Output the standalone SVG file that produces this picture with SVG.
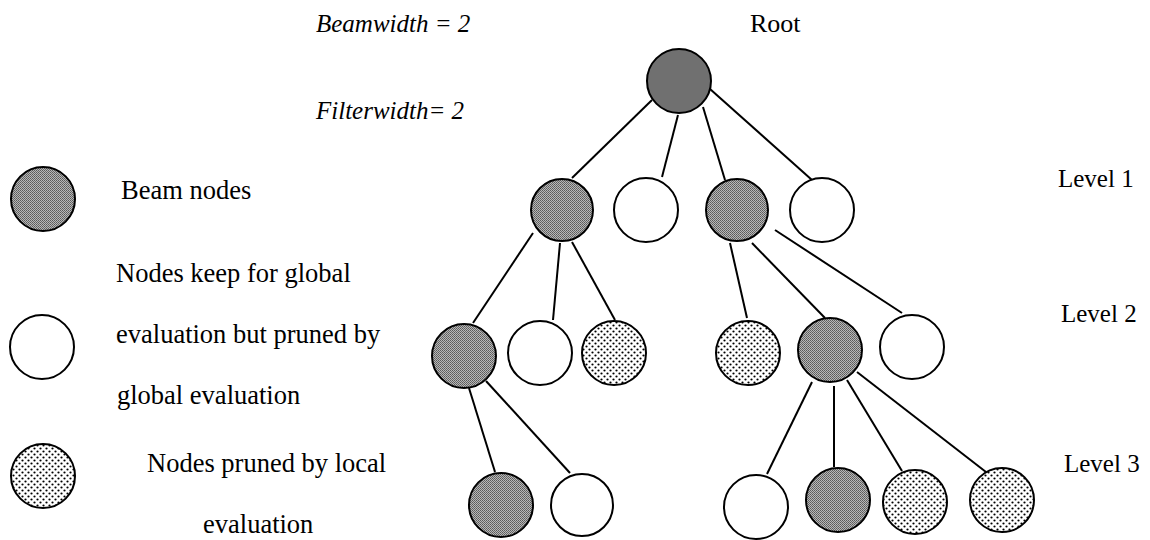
<svg xmlns="http://www.w3.org/2000/svg" width="1150" height="540" viewBox="0 0 1150 540">
<defs>
<pattern id="dots" width="6" height="6" patternUnits="userSpaceOnUse">
<rect width="6" height="6" fill="#fff"/>
<circle cx="1.5" cy="1.5" r="1.1" fill="#000"/>
<circle cx="4.5" cy="4.5" r="1.1" fill="#000"/>
</pattern>
<pattern id="dither" width="2" height="2" patternUnits="userSpaceOnUse">
<rect width="2" height="2" fill="#b8b8b8"/>
<rect width="1" height="1" fill="#5a5a5a"/>
<rect x="1" y="1" width="1" height="1" fill="#6a6a6a"/>
</pattern>
</defs>
<style>
.n{stroke:#000;stroke-width:2}
.beam{fill:url(#dither)}
.root{fill:#707070}
.keep{fill:#fff}
.local{fill:url(#dots)}
.t{font-size:25px;fill:#000}
.lg{font-size:26.5px}
.it{font-style:italic}
#edges line{stroke:#000;stroke-width:2}
</style>
<rect width="1150" height="540" fill="#fff"/>
<g font-family="Liberation Serif, DejaVu Serif, serif">
<text class="t it" x="316" y="32">Beamwidth = 2</text>
<text class="t it" x="316" y="119">Filterwidth= 2</text>
<text class="t" x="750" y="32" style="font-size:26px">Root</text>
<text class="t" x="1058" y="187">Level 1</text>
<text class="t" x="1061" y="322">Level 2</text>
<text class="t" x="1064" y="472">Level 3</text>
<g id="legend">
<g id="legend-beam"><circle class="n beam" cx="43" cy="199" r="32"/><text class="t lg" x="121" y="199">Beam nodes</text></g>
<g id="legend-keep"><circle class="n keep" cx="42" cy="347" r="32"/>
<text class="t lg" x="116" y="282">Nodes keep for global</text>
<text class="t lg" x="116" y="343">evaluation but pruned by</text>
<text class="t lg" x="117" y="404">global evaluation</text></g>
<g id="legend-local"><circle class="n local" cx="43" cy="476" r="32"/>
<text class="t lg" x="147" y="472">Nodes pruned by local</text>
<text class="t lg" x="203" y="533">evaluation</text></g>
</g>
</g>
<g id="edges">
<line x1="652" y1="100" x2="572" y2="178"/>
<line x1="678" y1="115" x2="662" y2="177"/>
<line x1="703" y1="107" x2="725" y2="180"/>
<line x1="710" y1="89" x2="812" y2="180"/>
<line x1="533" y1="233" x2="473" y2="323"/>
<line x1="560" y1="243" x2="553" y2="320"/>
<line x1="572" y1="242" x2="615" y2="320"/>
<line x1="730" y1="243" x2="747" y2="318"/>
<line x1="752" y1="243" x2="825" y2="318"/>
<line x1="775" y1="230" x2="902" y2="313"/>
<line x1="469" y1="388" x2="495" y2="472"/>
<line x1="486" y1="381" x2="570" y2="473"/>
<line x1="812" y1="382" x2="767" y2="474"/>
<line x1="834" y1="386" x2="834" y2="467"/>
<line x1="847" y1="380" x2="902" y2="471"/>
<line x1="857" y1="372" x2="986" y2="472"/>
</g>
<g id="root"><circle class="n root" cx="679" cy="81" r="32"/></g>
<g id="l1a"><circle class="n beam" cx="562" cy="210" r="31"/></g>
<g id="l1b"><circle class="n keep" cx="646" cy="210" r="32"/></g>
<g id="l1c"><circle class="n beam" cx="737" cy="210" r="31"/></g>
<g id="l1d"><circle class="n keep" cx="822" cy="210" r="32"/></g>
<g id="l2a"><circle class="n beam" cx="464" cy="356" r="32"/></g>
<g id="l2b"><circle class="n keep" cx="540" cy="353" r="32"/></g>
<g id="l2c"><circle class="n local" cx="614" cy="353" r="32"/></g>
<g id="l2d"><circle class="n local" cx="748" cy="353" r="32"/></g>
<g id="l2e"><circle class="n beam" cx="830" cy="350" r="32"/></g>
<g id="l2f"><circle class="n keep" cx="912" cy="347" r="32"/></g>
<g id="l3a"><circle class="n beam" cx="501" cy="505" r="32"/></g>
<g id="l3b"><circle class="n keep" cx="582" cy="505" r="31"/></g>
<g id="l3c"><circle class="n keep" cx="756" cy="507" r="32"/></g>
<g id="l3d"><circle class="n beam" cx="838" cy="500" r="32"/></g>
<g id="l3e"><circle class="n local" cx="915" cy="502" r="32"/></g>
<g id="l3f"><circle class="n local" cx="1002" cy="500" r="32"/></g>
</svg>
